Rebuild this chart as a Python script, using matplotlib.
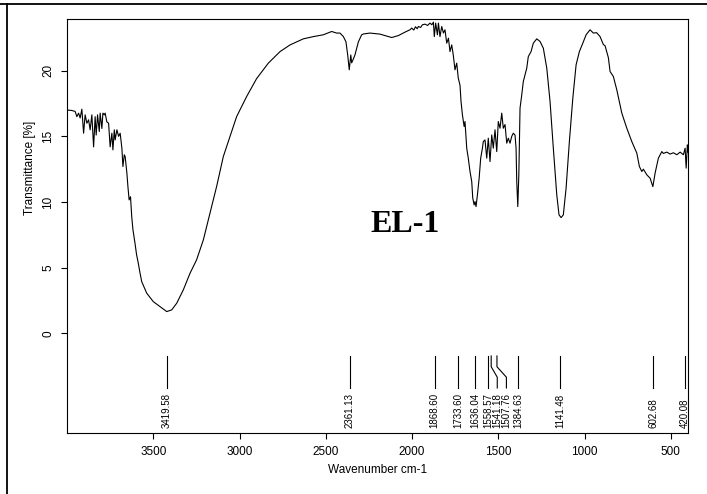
import matplotlib
matplotlib.use('Agg')
import matplotlib.pyplot as plt
from matplotlib.lines import Line2D

plt.rcParams['font.family'] = 'Liberation Sans'

# IR spectrum of sample EL-1 (wavenumber in cm-1, transmittance in %)
wavenumber = [
    4000, 3991, 3972, 3953, 3943, 3933, 3924, 3914, 3904, 3895, 3885, 3875, 3866, 3856,
    3846, 3837, 3831, 3823, 3813, 3808, 3798, 3792, 3784, 3779, 3769, 3759, 3750, 3740,
    3734, 3726, 3721, 3711, 3701, 3692, 3682, 3676, 3668, 3663, 3653, 3647, 3640, 3632,
    3625, 3618, 3606, 3597, 3587, 3577, 3567, 3538, 3500, 3461, 3422, 3393, 3364, 3326,
    3287, 3249, 3210, 3171, 3133, 3094, 3055, 3017, 2959, 2901, 2833, 2765, 2707, 2630,
    2572, 2514, 2466, 2437, 2418, 2398, 2383, 2373, 2364, 2355, 2350, 2340, 2331, 2311,
    2292, 2282, 2244, 2186, 2118, 2079, 2041, 2012, 2002, 1990, 1980, 1970, 1963, 1950,
    1940, 1925, 1910, 1896, 1885, 1876, 1871, 1863, 1853, 1847, 1838, 1828, 1818, 1809,
    1799, 1789, 1780, 1770, 1761, 1751, 1741, 1732, 1722, 1716, 1708, 1698, 1693, 1683,
    1674, 1664, 1654, 1648, 1640, 1635, 1629, 1621, 1611, 1602, 1592, 1587, 1577, 1567,
    1558, 1548, 1538, 1529, 1519, 1509, 1500, 1490, 1480, 1471, 1461, 1451, 1442, 1432,
    1422, 1413, 1403, 1397, 1393, 1387, 1381, 1374, 1364, 1355, 1345, 1335, 1326, 1310,
    1297, 1277, 1258, 1239, 1219, 1200, 1181, 1161, 1148, 1136, 1123, 1107, 1088, 1068,
    1049, 1030, 1010, 991, 968, 949, 930, 910, 891, 881, 862, 852, 833, 813,
    784, 755, 726, 697, 682, 668, 659, 639, 620, 604, 591, 572, 552, 543,
    523, 504, 485, 465, 446, 427, 417, 411, 404, 400,
]
transmittance = [
    16.95, 17.0, 16.97, 16.9, 16.5, 16.77, 16.4, 17.07, 15.24, 16.64, 16.0, 16.26, 15.5, 16.64,
    14.2, 16.5, 15.1, 16.64, 15.37, 16.77, 15.6, 16.77, 16.64, 16.77, 16.1, 16.0, 14.2, 15.24,
    13.97, 15.5, 14.73, 15.5, 15.0, 15.24, 14.1, 12.7, 13.6, 13.46, 12.2, 11.17, 10.16, 10.4,
    8.9, 7.9, 6.86, 6.0, 5.34, 4.6, 3.93, 3.05, 2.41, 2.03, 1.65, 1.78, 2.29, 3.3,
    4.57, 5.59, 7.1, 9.15, 11.17, 13.46, 15.0, 16.5, 18.03, 19.4, 20.58, 21.46, 21.97, 22.43,
    22.6, 22.74, 22.99, 22.87, 22.87, 22.6, 22.2, 21.2, 20.07, 21.2, 20.6, 20.9, 21.2, 22.2,
    22.74, 22.8, 22.87, 22.79, 22.53, 22.68, 22.94, 23.12, 23.25, 23.1, 23.35, 23.2, 23.37, 23.3,
    23.5, 23.55, 23.45, 23.63, 23.5, 23.7, 22.6, 23.63, 22.74, 23.63, 22.6, 23.37, 22.87, 23.12,
    22.1, 22.48, 21.46, 21.97, 21.2, 20.07, 20.58, 19.44, 18.9, 17.65, 16.64, 15.75, 16.13, 14.1,
    13.34, 12.32, 11.56, 10.29, 9.78, 10.03, 9.65, 10.54, 11.81, 13.34, 14.1, 14.6, 14.73, 13.34,
    14.86, 13.08, 15.11, 14.1, 15.5, 13.84, 16.13, 15.62, 16.77, 15.62, 15.9, 14.48, 14.86, 14.48,
    15.0, 15.24, 15.1, 14.1, 11.56, 9.65, 12.07, 17.15, 18.16, 19.18, 19.69, 20.2, 21.08, 21.46,
    22.1, 22.43, 22.23, 21.72, 20.2, 17.65, 14.1, 10.54, 9.02, 8.81, 9.02, 11.05, 14.6, 17.91,
    20.45, 21.46, 22.1, 22.74, 23.12, 22.87, 22.9, 22.6, 22.0, 21.9, 21.0, 19.94, 19.56, 18.54,
    16.77, 15.62, 14.6, 13.72, 12.7, 12.32, 12.5, 12.07, 11.81, 11.17, 12.2, 13.34, 13.84, 13.7,
    13.8, 13.65, 13.75, 13.6, 13.8, 13.6, 14.1, 12.58, 14.35, 13.8,
]

# picked peaks and where their labels sit (crowded ones are spread apart)
peak_positions = [3419.58, 2361.13, 1868.60, 1733.60, 1636.04, 1558.57, 1541.18,
                  1507.76, 1384.63, 1141.48, 602.68, 420.08]
peak_labels = ['3419.58', '2361.13', '1868.60', '1733.60', '1636.04', '1558.57',
               '1541.18', '1507.76', '1384.63', '1141.48', '602.68', '420.08']
label_positions = [3419.58, 2361.13, 1868.60, 1733.60, 1636.04, 1558.57, 1506.0,
                   1453.0, 1384.63, 1141.48, 602.68, 420.08]

fig = plt.figure(figsize=(7.07, 4.94), dpi=100)
ax = fig.add_axes([0.0948, 0.1235, 0.8784, 0.838])

ax.plot(wavenumber, transmittance, color='black', linewidth=0.8)

# peak marker lines with a kink for the shifted labels
for pk, lp, lab in zip(peak_positions, label_positions, peak_labels):
    ax.plot([pk, pk, lp, lp], [-1.73, -2.55, -3.35, -4.17], color='black', linewidth=0.8)
    ax.text(lp, -7.22, lab, rotation=90, ha='center', va='bottom', fontsize=7)

ax.text(2041, 8.25, 'EL-1', fontsize=23, fontweight='bold', family='Liberation Serif',
        ha='center', va='center')

ax.set_xlim(4000, 400)
ax.set_ylim(-7.6, 23.94)
ax.set_xticks([3500, 3000, 2500, 2000, 1500, 1000, 500])
ax.set_yticks([0, 5, 10, 15, 20])
ax.tick_params(direction='out', length=4.3, width=0.8, labelsize=8.5, pad=5)
for lbl in ax.get_yticklabels():
    lbl.set_rotation(90)
    lbl.set_va('center')
for sp in ax.spines.values():
    sp.set_linewidth(0.8)

fig.text(30 / 707, 1 - 167.5 / 494, 'Transmittance [%]', rotation=90,
         ha='center', va='center', fontsize=8.5)
fig.text(377.5 / 707, 1 - 470 / 494, 'Wavenumber cm-1', ha='center', va='center',
         fontsize=8.5)

# outer frame lines
fig.add_artist(Line2D([0, 1], [1 - 4 / 494, 1 - 4 / 494], transform=fig.transFigure,
                      color='black', linewidth=1.3))
fig.add_artist(Line2D([7 / 707, 7 / 707], [0, 1 - 4 / 494], transform=fig.transFigure,
                      color='black', linewidth=1.3))

fig.savefig('out.png', dpi=100)
